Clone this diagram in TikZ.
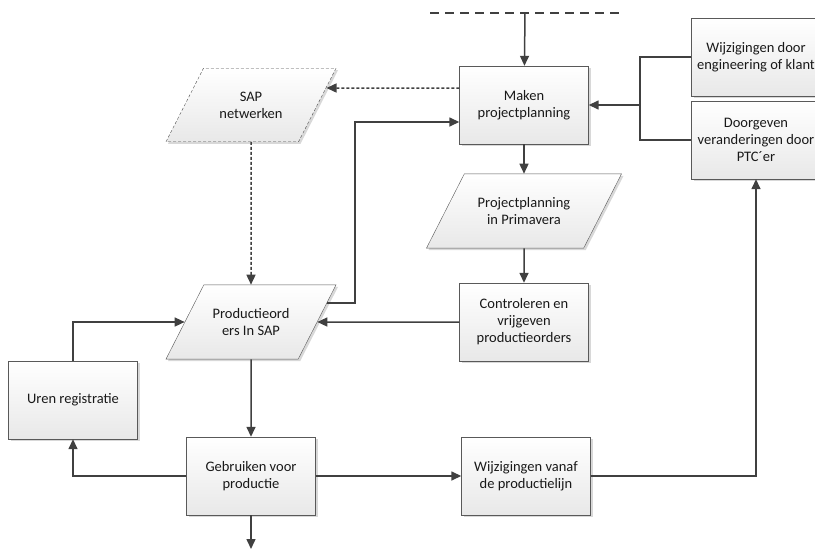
\documentclass[tikz,border=0pt]{standalone}
\usepackage{fontspec}
\setmainfont{Carlito}
\usepackage{tikz}
\usetikzlibrary{arrows.meta,shapes.geometric,shadows}

\begin{document}
\begin{tikzpicture}[x=1pt,y=-1pt,
  font=\fontsize{14.5}{17}\selectfont,
  box/.style={draw=black!65,top color=white,bottom color=black!9,text=black!90,align=center,minimum width=129pt,minimum height=78pt,inner sep=2pt,drop shadow={shadow xshift=2pt,shadow yshift=-2pt,fill=black!30}},
  data/.style={box,trapezium,trapezium left angle=63,trapezium right angle=117,trapezium stretches body,minimum width=170pt,minimum height=0pt,inner ysep=23.5pt},
  line/.style={draw=black!75,line width=1.5pt},
  arr/.style={line,-{Triangle[length=10pt,width=9pt]}},
  dot/.style={arr,dash pattern=on 3pt off 2pt}]
\useasboundingbox (0,0) rectangle (815,549);
\node[box] (maken) at (524,105) {Maken\\projectplanning};
\node[data,dash pattern=on 3pt off 2pt,draw=black!70,drop shadow={opacity=0}] (sap) at (251,105) {SAP\\netwerken};
\node[data,minimum width=195pt] (prima) at (524,211) {Projectplanning\\in Primavera};
\node[box] (contr) at (524,322) {Controleren en\\vrijgeven\\productieorders};
\node[data] (prod) at (251,322) {Productieord\\ers In SAP};
\node[box] (uren) at (73,400) {Uren registratie};
\node[box] (gebr) at (251,476) {Gebruiken voor\\productie};
\node[box] (wvan) at (526,476) {Wijzigingen vanaf\\de productielijn};
\node[box] (wdoor) at (756,57) {Wijzigingen door\\engineering of klant};
\node[box] (ptc) at (756,140) {Doorgeven\\veranderingen door\\PTC´er};
\coordinate (top) at (525,13);
\coordinate (split) at (640,105);
\coordinate (uit) at (251,549);
\draw[line,dash pattern=on 9pt off 6pt] (430,13) -- (620,13);
\draw[arr] (top) -- (maken);
\draw[dot] ([yshift=17pt]maken.west) -- ([xshift=9pt,yshift=17pt]sap.east);
\draw[dot] (sap) -- (prod);
\draw[arr] (maken) -- (prima);
\draw[arr] (prima) -- (contr);
\draw[arr] (contr) -- (prod);
\draw[arr] ([xshift=9.7pt,yshift=19pt]prod.east) -- ++(28,0) |- ([yshift=-17pt]maken.west);
\draw[arr] (uren.north) |- (prod.west);
\draw[arr] (prod) -- (gebr);
\draw[arr] (gebr.west) -| (uren.south);
\draw[arr] (gebr) -- (wvan);
\draw[arr] (wvan.east) -| (ptc.south);
\draw[line] (wdoor.west) -| (split) |- (ptc.west);
\draw[arr] (split) -- (maken.east);
\draw[arr] (gebr) -- (uit);
\end{tikzpicture}
\end{document}
